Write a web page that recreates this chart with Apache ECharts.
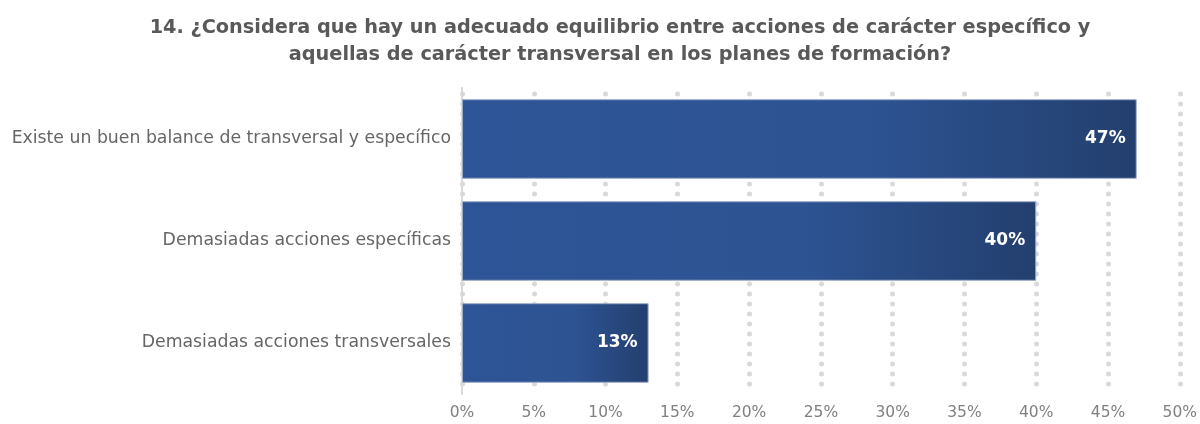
<!DOCTYPE html>
<html>
<head>
<meta charset="utf-8">
<script src="https://cdn.jsdelivr.net/npm/echarts@6/dist/echarts.min.js"></script>
<style>
  html, body { margin: 0; padding: 0; background: #ffffff; }
  #chart { width: 1200px; height: 424px; }
</style>
</head>
<body>
<div id="chart"></div>
<script>
// Survey question 14: balance between specific and cross-cutting actions
const titleLines = [
  '14. ¿Considera que hay un adecuado equilibrio entre acciones de carácter específico y',
  'aquellas de carácter transversal en los planes de formación?'
];
const categories = [
  'Existe un buen balance de transversal y específico',
  'Demasiadas acciones específicas',
  'Demasiadas acciones transversales'
];
const values = [47, 40, 13];
const axisMin = 0;
const axisMax = 50;
const axisStep = 5;

const chart = echarts.init(document.getElementById('chart'));

const barFill = new echarts.graphic.LinearGradient(0, 0, 1, 0, [
  { offset: 0, color: '#2E5597' },
  { offset: 0.6, color: '#2D5392' },
  { offset: 1, color: '#233F6E' }
]);

const FONT = 'DejaVu Sans';

chart.setOption({
  animation: false,
  title: {
    text: titleLines.join('\n'),
    left: 615,
    textAlign: 'center',
    top: 9,
    textStyle: {
      fontFamily: FONT,
      fontWeight: 'bold',
      fontSize: 19.3,
      lineHeight: 27,
      color: '#595959'
    }
  },
  grid: { left: 462, right: 18, top: 88, bottom: 30 },
  xAxis: {
    type: 'value',
    min: axisMin,
    max: axisMax,
    interval: axisStep,
    axisLine: { show: false },
    axisTick: { show: false },
    axisLabel: {
      formatter: '{value}%',
      margin: 11,
      fontFamily: FONT,
      fontSize: 15.5,
      color: '#808080'
    },
    splitLine: {
      show: true,
      lineStyle: { color: '#D9D9D9', width: 5, type: [0, 10], cap: 'round', dashOffset: 4 }
    }
  },
  yAxis: {
    type: 'category',
    data: categories,
    inverse: true,
    axisLine: { show: true, lineStyle: { color: '#D9D9D9', width: 2 } },
    axisTick: { show: false },
    axisLabel: {
      margin: 11,
      fontFamily: FONT,
      fontSize: 17.3,
      color: '#666666'
    }
  },
  series: [{
    type: 'bar',
    data: values,
    barCategoryGap: '22%',
    itemStyle: { color: barFill, borderColor: '#9AAACB', borderWidth: 1 },
    label: {
      show: true,
      position: 'insideRight',
      offset: [-6, 0],
      formatter: '{c}%',
      fontFamily: FONT,
      fontWeight: 'bold',
      fontSize: 17,
      color: '#FFFFFF'
    },
    z: 3
  }]
});
</script>
</body>
</html>
